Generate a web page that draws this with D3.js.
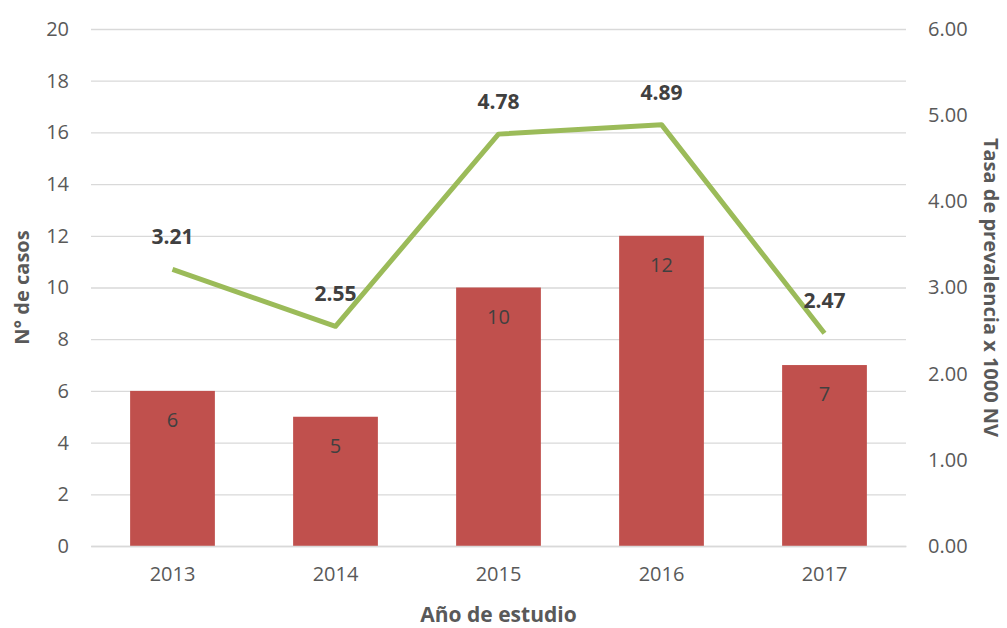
<!DOCTYPE html>
<html>
<head>
<meta charset="utf-8">
<script src="https://cdn.jsdelivr.net/npm/d3@7"></script>
<style>
  body { margin: 0; background: #fff; }
  text { font-family: "Open Sans", sans-serif; }
</style>
</head>
<body>
<svg id="chart" width="1007" height="628"></svg>
<script>
var years  = ["2013", "2014", "2015", "2016", "2017"];
var casos  = [6, 5, 10, 12, 7];
var tasa   = [3.21, 2.55, 4.78, 4.89, 2.47];
var leftTicks  = [0, 2, 4, 6, 8, 10, 12, 14, 16, 18, 20];
var rightTicks = [0, 1, 2, 3, 4, 5, 6];

var barColor  = "#c0504d",
    lineColor = "#9bbb59",
    gridColor = "#d9d9d9",
    textColor = "#595959";

var svg = d3.select("#chart");
// plot area edges (avoid "top", it's window.top)
var plotL = 91, plotR = 906, plotT = 29, plotB = 546;

var x = d3.scaleBand().domain(years).range([plotL, plotR])
    .paddingInner(0.48).paddingOuter(0.24);
var yL = d3.scaleLinear().domain([0, 20]).range([plotB, plotT]);
var yR = d3.scaleLinear().domain([0, 6]).range([plotB, plotT]);

// gridlines
svg.append("g")
  .attr("transform", "translate(" + plotL + ",0)")
  .call(d3.axisLeft(yL).tickValues(leftTicks).tickSize(-(plotR - plotL)).tickFormat(""))
  .call(function(g){
    g.select(".domain").remove();
    g.selectAll("line").attr("stroke", gridColor).attr("stroke-width", 1.3);
  });

// left axis labels
svg.append("g")
  .attr("transform", "translate(" + plotL + ",0)")
  .call(d3.axisLeft(yL).tickValues(leftTicks).tickSize(0).tickPadding(22))
  .call(function(g){
    g.select(".domain").remove();
    g.selectAll("text").attr("fill", textColor).style("font-size", "20px");
  });

// right axis labels
svg.append("g")
  .attr("transform", "translate(" + plotR + ",0)")
  .call(d3.axisRight(yR).tickValues(rightTicks).tickSize(0).tickPadding(22).tickFormat(d3.format(".2f")))
  .call(function(g){
    g.select(".domain").remove();
    g.selectAll("text").attr("fill", textColor).style("font-size", "20px");
  });

// bars
svg.selectAll("rect.bar")
  .data(casos).enter()
  .append("rect")
  .attr("class", "bar")
  .attr("x", function(d, i){ return x(years[i]); })
  .attr("width", x.bandwidth())
  .attr("y", function(d){ return yL(d); })
  .attr("height", function(d){ return yL(0) - yL(d); })
  .attr("fill", barColor);

// bar labels
svg.selectAll("text.barLabel")
  .data(casos).enter()
  .append("text")
  .attr("class", "barLabel")
  .attr("x", function(d, i){ return x(years[i]) + x.bandwidth() / 2; })
  .attr("y", function(d){ return yL(d) + 36; })
  .attr("text-anchor", "middle")
  .attr("fill", "#404040")
  .style("font-size", "20px")
  .text(function(d){ return d; });

// x axis
svg.append("g")
  .attr("transform", "translate(0," + plotB + ")")
  .call(d3.axisBottom(x).tickSize(0).tickPadding(21))
  .call(function(g){
    g.select(".domain").attr("stroke", gridColor).attr("stroke-width", 1.3);
    g.selectAll("text").attr("fill", textColor).style("font-size", "20px");
  });

// line
var line = d3.line()
  .x(function(d, i){ return x(years[i]) + x.bandwidth() / 2; })
  .y(function(d){ return yR(d); });

svg.append("path")
  .datum(tasa)
  .attr("d", line)
  .attr("fill", "none")
  .attr("stroke", lineColor)
  .attr("stroke-width", 5)
  .attr("stroke-linejoin", "round");

svg.selectAll("text.lineLabel")
  .data(tasa).enter()
  .append("text")
  .attr("class", "lineLabel")
  .attr("x", function(d, i){ return x(years[i]) + x.bandwidth() / 2; })
  .attr("y", function(d){ return yR(d) - 25; })
  .attr("text-anchor", "middle")
  .attr("fill", "#404040")
  .style("font-size", "21px")
  .style("font-weight", "bold")
  .text(function(d){ return d3.format(".2f")(d); });

// axis titles
svg.append("text")
  .attr("transform", "translate(29," + ((plotT + plotB) / 2) + ") rotate(-90)")
  .attr("text-anchor", "middle")
  .attr("fill", textColor)
  .style("font-size", "20px")
  .style("font-weight", "bold")
  .text("N° de casos");

svg.append("text")
  .attr("transform", "translate(984," + ((plotT + plotB) / 2) + ") rotate(90)")
  .attr("text-anchor", "middle")
  .attr("fill", textColor)
  .style("font-size", "20px")
  .style("font-weight", "bold")
  .text("Tasa de prevalencia x 1000 NV");

svg.append("text")
  .attr("x", (plotL + plotR) / 2)
  .attr("y", 622)
  .attr("text-anchor", "middle")
  .attr("fill", textColor)
  .style("font-size", "21px")
  .style("font-weight", "bold")
  .text("Año de estudio");
</script>
</body>
</html>
